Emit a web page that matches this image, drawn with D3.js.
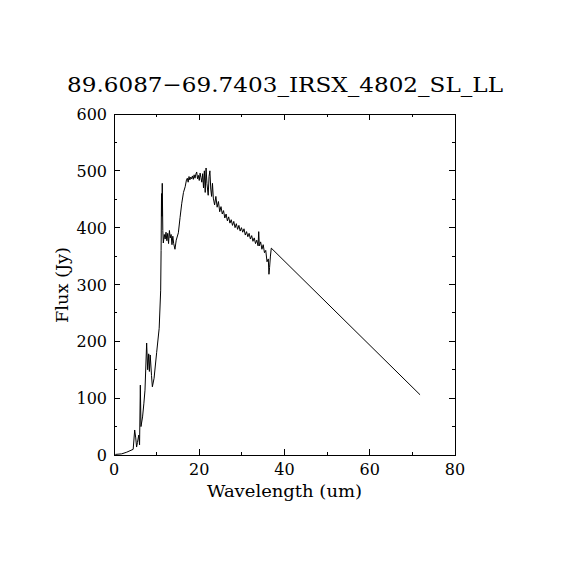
<!DOCTYPE html>
<html>
<head>
<meta charset="utf-8">
<script src="https://cdn.jsdelivr.net/npm/d3@7"></script>
<style>
  body { margin: 0; background: #fff; }
  text { font-family: "DejaVu Serif", "Liberation Serif", serif; fill: #000; }
</style>
</head>
<body>
<div class="canvas"></div>
<script>
const title = "89.6087\u221269.7403_IRSX_4802_SL_LL"
const xAxisLabel = "Wavelength (um)"
const yAxisLabel = "Flux (Jy)"

const xTicks = [0, 20, 40, 60, 80]
const xMinor = [10, 30, 50, 70]
const yTicks = [0, 100, 200, 300, 400, 500, 600]
const yMinor = [50, 150, 250, 350, 450, 550]

// spectrum
const wavelength = [0.3, 1.8, 3.0, 4.5, 4.85, 5.1, 5.3, 5.5, 5.8, 6.0, 6.18, 6.33, 6.7, 7.0, 7.27, 7.66, 7.9, 8.14, 8.3, 8.5,
  8.8, 9.0, 9.4, 10.0, 10.6, 10.95, 11.05, 11.15, 11.25, 11.32, 11.45, 11.57, 11.8, 12.0, 12.2, 12.4, 12.6, 12.8, 13.0, 13.2,
  13.4, 13.6, 13.8, 14.0, 14.3, 14.6, 15.1, 15.5, 15.9, 16.3, 16.7, 17.0, 17.2, 17.4, 17.6, 17.8, 18.0, 18.2, 18.4, 18.6,
  18.8, 19.0, 19.2, 19.4, 19.6, 19.8, 20.0, 20.2, 20.4, 20.6, 20.8, 21.0, 21.2, 21.4, 21.6, 21.8, 22.1, 22.3, 22.5, 22.7,
  22.9, 23.1, 23.3, 23.6, 23.9, 24.2, 24.5, 24.8, 25.1, 25.4, 25.7, 26.0, 26.3, 26.6, 26.9, 27.2, 27.5, 27.8, 28.1, 28.4,
  28.7, 29.0, 29.3, 29.6, 29.9, 30.2, 30.5, 30.8, 31.1, 31.4, 31.7, 32.0, 32.3, 32.6, 32.9, 33.2, 33.5, 33.8, 33.95, 34.1,
  34.4, 34.7, 35.0, 35.3, 35.6, 35.9, 36.2, 36.35, 36.5, 36.7, 36.9, 71.8]
const flux = [1, 2, 5, 10, 44, 30, 14, 22, 35, 18, 123, 50, 67, 90, 114, 197, 150, 178, 147, 176,
  140, 120, 135, 180, 223, 290, 360, 460, 420, 478, 395, 373, 388, 380, 392, 377, 390, 372, 395, 382,
  388, 370, 385, 372, 362, 378, 391, 418, 443, 462, 472, 484, 487, 480, 490, 484, 489, 486, 491, 485,
  493, 487, 494, 498, 486, 492, 483, 496, 488, 480, 495, 470, 500, 462, 505, 478, 457, 490, 500, 468,
  455, 478, 452, 440, 455, 436, 446, 428, 437, 424, 430, 417, 424, 412, 419, 408, 414, 404, 411, 400,
  407, 397, 404, 394, 400, 392, 398, 387, 393, 384, 390, 380, 386, 376, 382, 372, 378, 368, 393, 368,
  375, 362, 370, 356, 360, 340, 345, 318, 330, 350, 364, 106]

const data = wavelength.map((w, i) => ({w: w, f: flux[i]}))

const svg = d3.select(".canvas")
            .append("svg")
            .attr('width', 570)
            .attr('height', 570)

const margin = {top: 114, right: 115, bottom: 115, left: 114}
const graphWidth = 570 - margin.left - margin.right
const graphHeight = 570 - margin.top - margin.bottom

const graph = svg.append('g')
    .attr('transform', `translate(${margin.left}, ${margin.top})`)

const xScale = d3.scaleLinear().domain([0, 80]).range([0, graphWidth])
const yScale = d3.scaleLinear().domain([0, 600]).range([graphHeight, 0])

// frame
graph.append('rect')
    .attr('x', 0).attr('y', 0)
    .attr('width', graphWidth).attr('height', graphHeight)
    .attr('fill', 'none').attr('stroke', 'black').attr('stroke-width', 1)
    .attr('shape-rendering', 'crispEdges')

// inward ticks on all four sides
const major = 6, minor = 3
const tickG = graph.append('g').attr('stroke', 'black').attr('shape-rendering', 'crispEdges')
const drawX = (vals, len) => vals.forEach(v => {
    tickG.append('line').attr('x1', xScale(v)).attr('x2', xScale(v)).attr('y1', graphHeight).attr('y2', graphHeight - len)
    tickG.append('line').attr('x1', xScale(v)).attr('x2', xScale(v)).attr('y1', 0).attr('y2', len)
})
const drawY = (vals, len) => vals.forEach(v => {
    tickG.append('line').attr('y1', yScale(v)).attr('y2', yScale(v)).attr('x1', 0).attr('x2', len)
    tickG.append('line').attr('y1', yScale(v)).attr('y2', yScale(v)).attr('x1', graphWidth).attr('x2', graphWidth - len)
})
drawX(xTicks, major); drawX(xMinor, minor)
drawY(yTicks, major); drawY(yMinor, minor)

// tick labels
graph.selectAll('.xlab').data(xTicks).enter().append('text')
    .attr('x', d => xScale(d)).attr('y', graphHeight + 20)
    .attr('text-anchor', 'middle').attr('font-size', 16)
    .text(d => d)

graph.selectAll('.ylab').data(yTicks).enter().append('text')
    .attr('x', -7).attr('y', d => yScale(d) + 6)
    .attr('text-anchor', 'end').attr('font-size', 16)
    .text(d => d)

// spectrum
const lineGenerator = d3.line().x(d => xScale(d.w)).y(d => yScale(d.f))
graph.append('path')
    .attr('d', lineGenerator(data))
    .attr('fill', 'none').attr('stroke', 'black').attr('stroke-width', 1)

// labels
svg.append('text')
    .attr('x', 285).attr('y', 92)
    .attr('text-anchor', 'middle').attr('font-size', 21)
    .attr('textLength', 436).attr('lengthAdjust', 'spacingAndGlyphs')
    .text(title)

svg.append('text')
    .attr('x', 284.5).attr('y', 497)
    .attr('text-anchor', 'middle').attr('font-size', 16)
    .attr('textLength', 155).attr('lengthAdjust', 'spacingAndGlyphs')
    .text(xAxisLabel)

svg.append('text')
    .attr('transform', 'translate(68, 285) rotate(-90)')
    .attr('text-anchor', 'middle').attr('font-size', 16)
    .attr('textLength', 76).attr('lengthAdjust', 'spacingAndGlyphs')
    .text(yAxisLabel)
</script>
</body>
</html>
